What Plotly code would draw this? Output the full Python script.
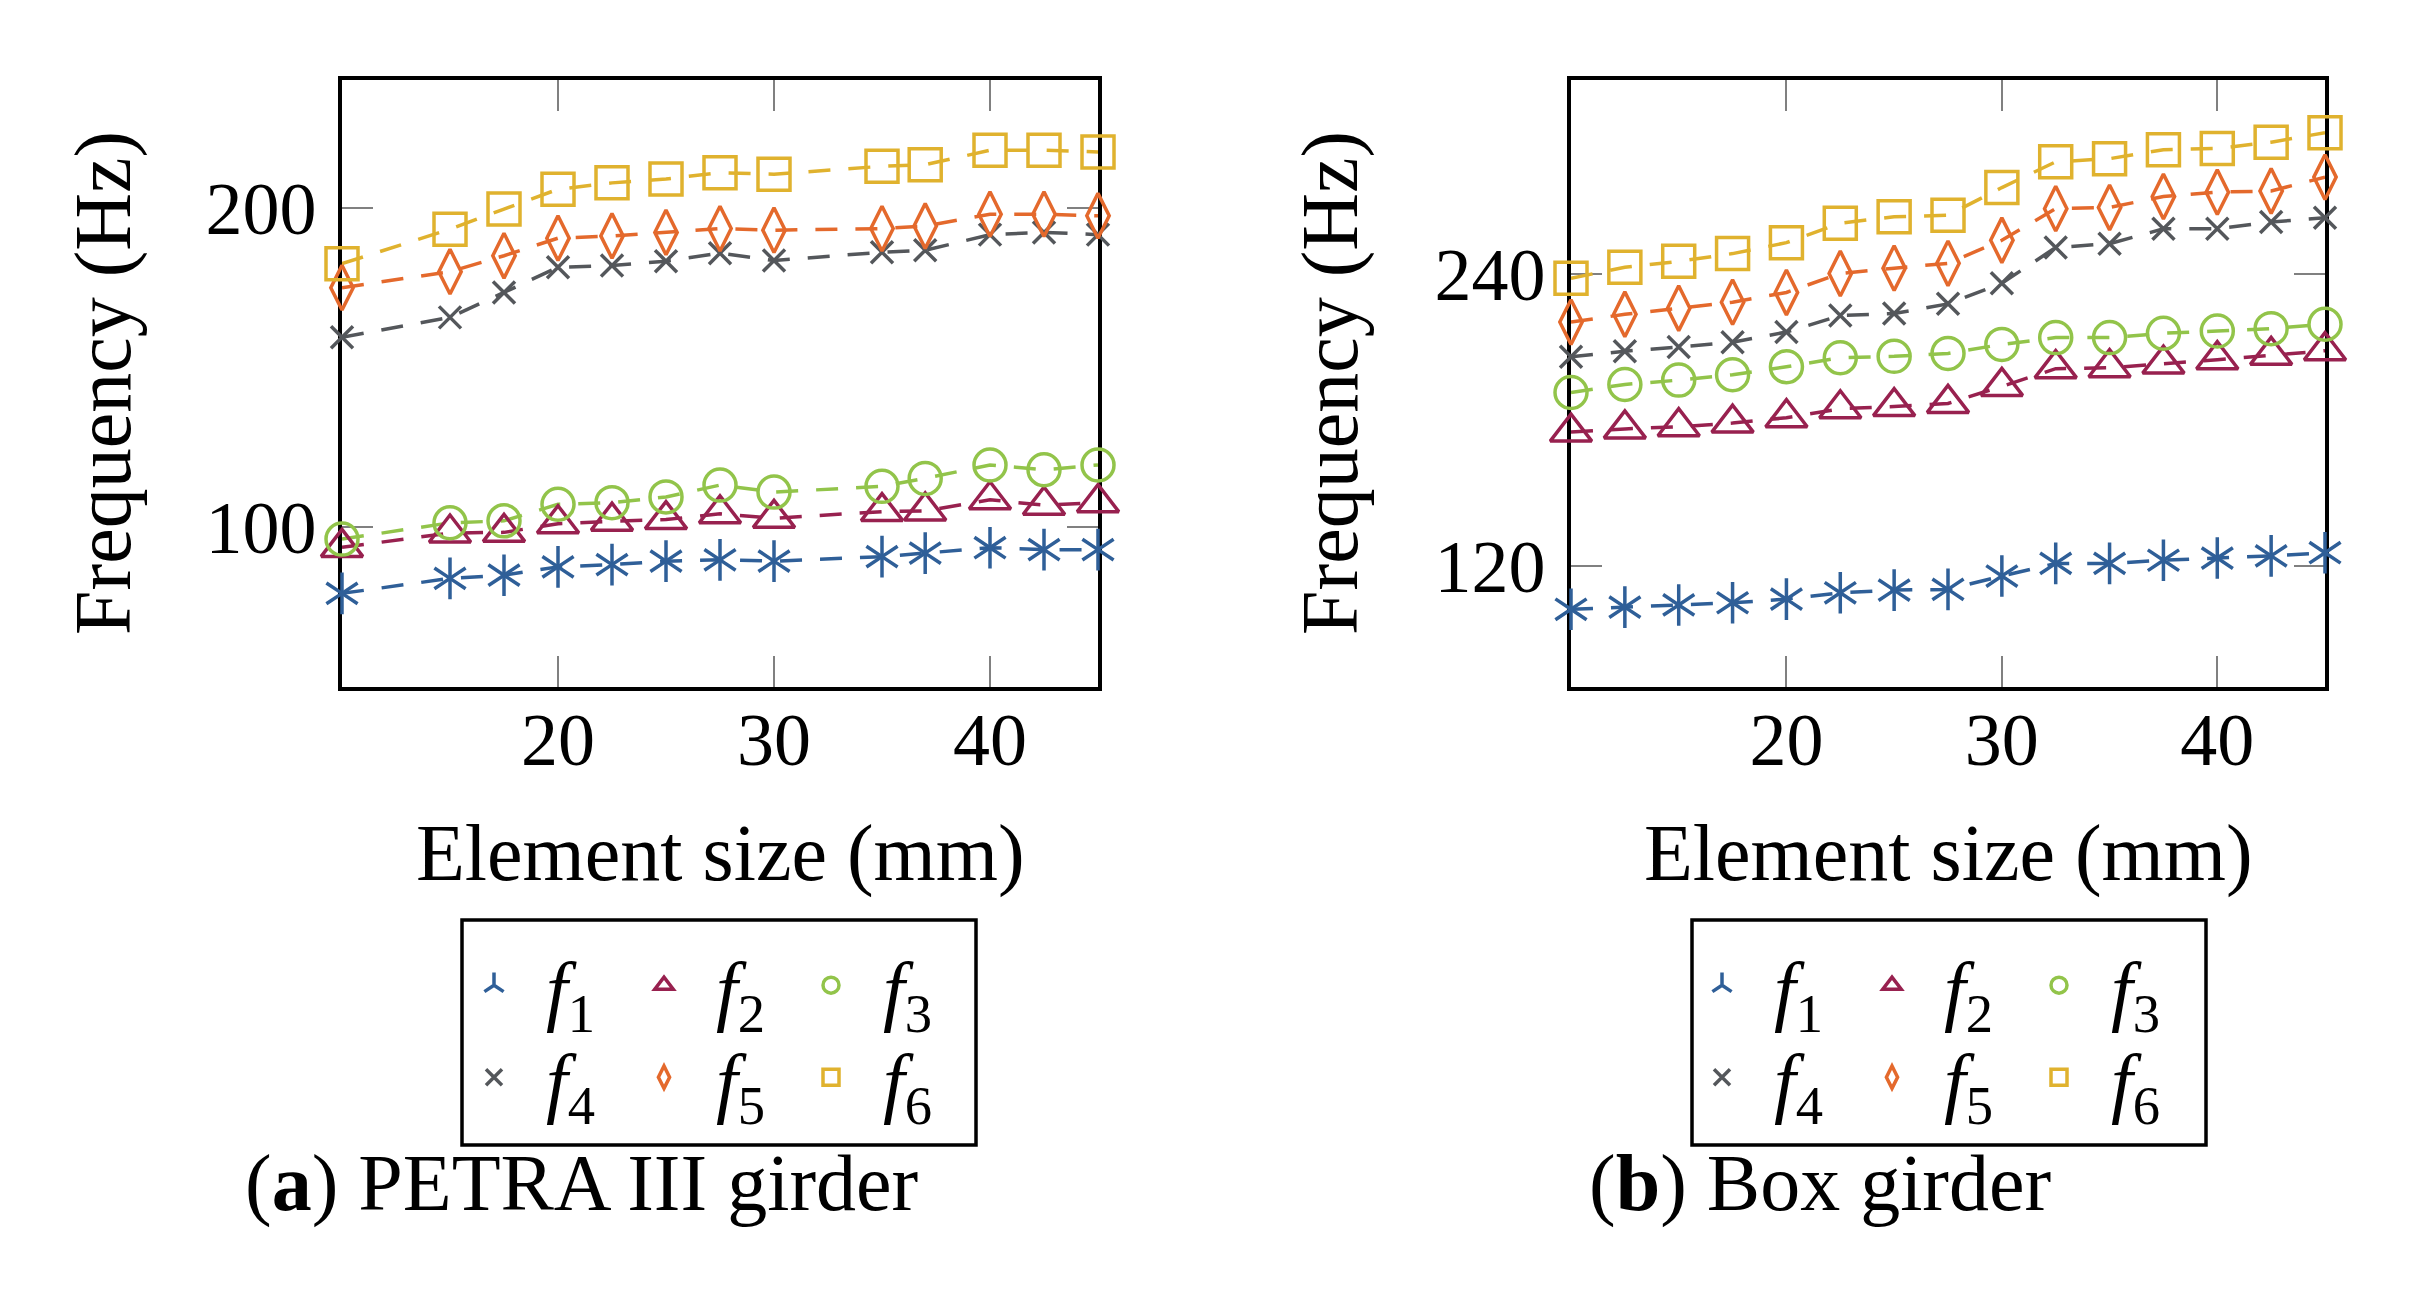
import plotly.graph_objects as go

# ---------------- data ----------------
x_petra = [10, 15, 17.5, 20, 22.5, 25, 27.5, 30, 35, 37, 40, 42.5, 45]
petra_f1 = [79.3, 84.0, 85.0, 87.6, 88.3, 89.4, 89.8, 89.4, 90.8, 91.9, 93.6, 93.0, 93.0]
petra_f2 = [93.7, 98.2, 98.4, 101.1, 101.9, 102.4, 104.2, 102.8, 104.9, 105.1, 108.6, 106.9, 107.7]
petra_f3 = [96.3, 101.4, 102.0, 107.2, 107.7, 109.5, 113.2, 111.0, 112.8, 115.3, 119.5, 118.0, 119.5]
petra_f4 = [159.5, 165.7, 173.5, 181.4, 181.9, 183.3, 185.8, 183.5, 186.1, 186.7, 191.6, 192.3, 191.6]
petra_f5 = [175.0, 180.0, 185.0, 190.5, 191.2, 192.3, 193.5, 193.0, 193.5, 194.3, 198.0, 198.0, 197.5]
petra_f6 = [182.5, 193.3, 199.6, 205.8, 207.8, 209.0, 211.0, 210.5, 213.0, 213.5, 218.0, 218.0, 217.5]

x_box = [10, 12.5, 15, 17.5, 20, 22.5, 25, 27.5, 30, 32.5, 35, 37.5, 40, 42.5, 45]
box_f1 = [102.0, 102.9, 103.8, 104.7, 106.2, 108.8, 109.9, 110.2, 115.7, 120.9, 120.9, 122.2, 123.1, 124.0, 125.3]
box_f2 = [175.0, 176.3, 177.2, 178.7, 180.9, 184.6, 185.5, 186.8, 193.8, 201.1, 201.5, 203.0, 204.8, 206.6, 208.5]
box_f3 = [191.3, 194.6, 196.4, 198.6, 201.9, 205.6, 206.2, 207.4, 211.1, 213.9, 213.9, 215.7, 216.6, 217.6, 219.4]
box_f4 = [206.0, 208.3, 210.0, 212.0, 216.2, 223.0, 223.8, 227.8, 236.3, 251.0, 252.6, 258.7, 258.7, 261.5, 263.3]
box_f5 = [220.3, 223.5, 226.0, 228.5, 232.5, 240.3, 242.5, 244.5, 254.0, 267.0, 267.5, 272.0, 273.8, 274.3, 280.0]
box_f6 = [238.3, 242.9, 245.3, 248.5, 253.0, 261.0, 263.7, 264.3, 275.7, 286.3, 287.6, 291.3, 291.8, 294.4, 298.3]

series_names = ["<i>f</i><sub>1</sub>", "<i>f</i><sub>2</sub>", "<i>f</i><sub>3</sub>",
                "<i>f</i><sub>4</sub>", "<i>f</i><sub>5</sub>", "<i>f</i><sub>6</sub>"]
x_ticks = [20, 30, 40]
petra_y_ticks = [100, 200]
box_y_ticks = [120, 240]
x_title = "Element size (mm)"
y_title = "Frequency (Hz)"
caption_a = "(<b>a</b>) PETRA III girder"
caption_b = "(<b>b</b>) Box girder"

# ---------------- style ----------------
W, H = 2411, 1305
FONT = "Liberation Serif, Times New Roman, serif"
colors = ["#2F5F98", "#98214F", "#92C44A", "#54575B", "#E4692C", "#E0B22E"]
symbols = ["y-up-open", "triangle-up-open", "circle-open", "x-thin-open", "diamond-tall-open", "square-open"]
sizes = [26, 36, 32, 22, 32, 32]


def px(x):
    return x / W


def py(y):
    return 1 - y / H


fig = go.Figure()

# legend slot (column, row) for each series: f1 f2 f3 / f4 f5 f6
col_x_left = [494, 664, 831]
row_y = [990, 1082]
panel_shift = [0, 1228]

panels = [
    (x_petra, [petra_f1, petra_f2, petra_f3, petra_f4, petra_f5, petra_f6], "x", "y"),
    (x_box, [box_f1, box_f2, box_f3, box_f4, box_f5, box_f6], "x2", "y2"),
]

leg_common = dict(orientation="v", xanchor="left", yanchor="top",
                  bgcolor="rgba(0,0,0,0)", borderwidth=0, itemwidth=94,
                  tracegroupgap=0, font=dict(family=FONT, size=78, color="black"))

leg_idx = 0
for p, (xs, ys_list, xa, ya) in enumerate(panels):
    for i, ys in enumerate(ys_list):
        c = colors[i]
        fig.add_trace(go.Scatter(
            x=xs, y=ys, xaxis=xa, yaxis=ya, mode="lines",
            line=dict(color=c, width=3.5, dash="22px,18px"),
            showlegend=False, cliponaxis=False, hoverinfo="skip"))
    for i, ys in enumerate(ys_list):
        c = colors[i]
        leg_idx += 1
        lname = "legend" if leg_idx == 1 else f"legend{leg_idx}"
        col, row = i % 3, i // 3
        cx = col_x_left[col] + panel_shift[p]
        fig.update_layout({lname: dict(x=px(cx - 52), y=py(row_y[row] - 62), **leg_common)})
        fig.add_trace(go.Scatter(
            x=xs, y=ys, xaxis=xa, yaxis=ya, mode="markers",
            marker=dict(symbol=symbols[i], size=sizes[i], color=c,
                        line=dict(color=c, width=3.5)),
            name=series_names[i], legend=lname,
            showlegend=True, cliponaxis=False))
        if i == 0:
            fig.add_trace(go.Scatter(
                x=xs, y=ys, xaxis=xa, yaxis=ya, mode="markers",
                marker=dict(symbol="y-down-open", size=sizes[i], color=c,
                            line=dict(color=c, width=3.5)),
                showlegend=False, cliponaxis=False))

axis_common = dict(
    showline=True, linecolor="black", linewidth=3.5, mirror="allticks",
    ticks="inside", ticklen=31, tickwidth=1.5, tickcolor="#808080",
    showgrid=False, zeroline=False, layer="below traces",
    tickfont=dict(family=FONT, size=74, color="black"),
)

fig.update_layout(
    width=W, height=H, margin=dict(l=0, r=0, t=0, b=0),
    paper_bgcolor="white", plot_bgcolor="white",
    font=dict(family=FONT, color="black"),
    xaxis=dict(domain=[px(342), px(1098)], range=[10, 45], tickvals=x_ticks,
               anchor="y", ticklabelstandoff=-15, **axis_common),
    yaxis=dict(domain=[py(687), py(80)], range=[50, 240], tickvals=petra_y_ticks,
               anchor="x", ticklabelstandoff=7, **axis_common),
    xaxis2=dict(domain=[px(1571), px(2325)], range=[10, 45], tickvals=x_ticks,
                anchor="y2", ticklabelstandoff=-15, **axis_common),
    yaxis2=dict(domain=[py(687), py(80)], range=[70, 320], tickvals=box_y_ticks,
                anchor="x2", ticklabelstandoff=7, **axis_common),
)

# legend frames
for x0, x1 in [(462, 976), (1692, 2206)]:
    fig.add_shape(type="rect", xref="paper", yref="paper",
                  x0=px(x0), x1=px(x1), y0=py(1145), y1=py(920),
                  line=dict(color="black", width=3.5), fillcolor="rgba(0,0,0,0)")

ann = []
for cx in [104, 1331]:
    ann.append(dict(text=y_title, x=px(cx), y=py(383), xref="paper", yref="paper",
                    textangle=-90, showarrow=False, xanchor="center", yanchor="middle",
                    font=dict(family=FONT, size=80, color="black")))
for cx in [720, 1948]:
    ann.append(dict(text=x_title, x=px(cx), y=py(853), xref="paper", yref="paper",
                    showarrow=False, xanchor="center", yanchor="middle",
                    font=dict(family=FONT, size=80, color="black")))
for cx, t in [(581, caption_a), (1820, caption_b)]:
    ann.append(dict(text=t, x=px(cx), y=py(1183), xref="paper", yref="paper",
                    showarrow=False, xanchor="center", yanchor="middle",
                    font=dict(family=FONT, size=80, color="black")))
fig.update_layout(annotations=ann)

fig.write_html("out.html", config={"displayModeBar": False},
               post_script="document.body.style.margin='0';document.body.style.padding='0';")
